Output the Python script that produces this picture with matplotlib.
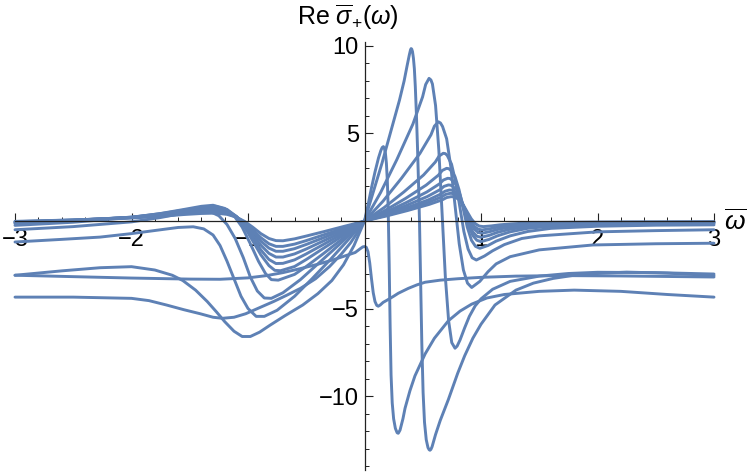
import matplotlib
matplotlib.use("Agg")
import matplotlib.pyplot as plt

# ---------------- data ----------------
c1_x = [-3, -2.5, -2, -1.75, -1.55, -1.4, -1.28, -1.18, -1.1, -1.03, -0.96, -0.89, -0.82, -0.76, -0.7, -0.6, -0.5, -0.35, -0.2, -0.1, 0,
        0.185, 0.371, 0.556, 0.668, 0.705, 0.742, 0.76, 0.777, 0.812, 0.846, 0.881, 0.916, 0.95, 0.985, 1.02, 1.09, 1.16, 1.25, 1.4, 1.6, 2, 2.5, 3]
c1_y = [-0.02, 0.06, 0.17, 0.27, 0.37, 0.43, 0.45, 0.38, 0.22, -0.02, -0.35, -0.72, -1.0, -1.12, -1.13, -1.02, -0.86, -0.61, -0.35, -0.18, 0,
        0.28, 0.6, 0.95, 1.21, 1.34, 1.39, 1.385, 1.36, 1.22, 0.94, 0.53, 0.13, -0.15, -0.29, -0.32, -0.28, -0.22, -0.17, -0.11, -0.08, -0.06, -0.05, -0.04]

c2_x = [-3, -2.5, -2, -1.75, -1.55, -1.4, -1.28, -1.18, -1.1, -1.03, -0.96, -0.89, -0.82, -0.76, -0.7, -0.6, -0.5, -0.35, -0.2, -0.1, 0,
        0.1835, 0.367, 0.55, 0.66, 0.697, 0.734, 0.752, 0.77, 0.803, 0.838, 0.872, 0.906, 0.941, 0.976, 1.01, 1.08, 1.15, 1.25, 1.4, 1.6, 2, 2.5, 3]
c2_y = [-0.04, 0.06, 0.19, 0.3, 0.42, 0.5, 0.52, 0.43, 0.22, -0.08, -0.5, -0.95, -1.3, -1.45, -1.45, -1.32, -1.12, -0.79, -0.46, -0.23, 0,
        0.32, 0.68, 1.07, 1.37, 1.52, 1.58, 1.575, 1.54, 1.37, 1.03, 0.53, 0.04, -0.3, -0.47, -0.51, -0.44, -0.34, -0.25, -0.17, -0.12, -0.08, -0.07, -0.06]

c3_x = [-3, -2.5, -2, -1.75, -1.55, -1.4, -1.28, -1.18, -1.1, -1.03, -0.96, -0.89, -0.82, -0.76, -0.7, -0.6, -0.5, -0.35, -0.2, -0.1, 0,
        0.182, 0.364, 0.546, 0.655, 0.691, 0.728, 0.746, 0.763, 0.798, 0.834, 0.87, 0.905, 0.94, 0.975, 1.01, 1.08, 1.15, 1.25, 1.4, 1.6, 2, 2.5, 3]
c3_y = [-0.06, 0.05, 0.2, 0.33, 0.47, 0.57, 0.6, 0.49, 0.24, -0.13, -0.63, -1.15, -1.55, -1.73, -1.73, -1.58, -1.34, -0.95, -0.55, -0.28, 0,
        0.35, 0.76, 1.2, 1.54, 1.7, 1.77, 1.765, 1.72, 1.52, 1.11, 0.53, -0.05, -0.45, -0.65, -0.7, -0.6, -0.47, -0.35, -0.24, -0.16, -0.11, -0.09, -0.08]

c4_x = [-3, -2.5, -2, -1.75, -1.55, -1.4, -1.28, -1.18, -1.1, -1.03, -0.96, -0.89, -0.82, -0.76, -0.7, -0.6, -0.5, -0.35, -0.2, -0.1, 0,
        0.18, 0.36, 0.54, 0.648, 0.683, 0.72, 0.738, 0.755, 0.79, 0.825, 0.86, 0.895, 0.93, 0.965, 1.0, 1.07, 1.14, 1.25, 1.4, 1.6, 2, 2.5, 3]
c4_y = [-0.08, 0.04, 0.21, 0.36, 0.52, 0.64, 0.68, 0.55, 0.25, -0.18, -0.78, -1.38, -1.85, -2.06, -2.06, -1.88, -1.6, -1.13, -0.66, -0.33, 0,
        0.41, 0.89, 1.4, 1.79, 1.98, 2.06, 2.05, 1.99, 1.77, 1.27, 0.57, -0.14, -0.63, -0.87, -0.93, -0.82, -0.65, -0.47, -0.32, -0.22, -0.15, -0.12, -0.1]

c5_x = [-3, -2.5, -2, -1.75, -1.55, -1.4, -1.28, -1.18, -1.1, -1.03, -0.96, -0.89, -0.82, -0.76, -0.7, -0.6, -0.5, -0.35, -0.2, -0.1, 0,
        0.1785, 0.357, 0.5355, 0.643, 0.677, 0.714, 0.732, 0.75, 0.786, 0.821, 0.857, 0.893, 0.929, 0.964, 1.0, 1.07, 1.14, 1.25, 1.4, 1.6, 2, 2.5, 3]
c5_y = [-0.11, 0.03, 0.22, 0.39, 0.57, 0.71, 0.76, 0.61, 0.26, -0.25, -0.95, -1.65, -2.2, -2.43, -2.42, -2.22, -1.88, -1.33, -0.77, -0.39, 0,
        0.49, 1.05, 1.66, 2.12, 2.34, 2.44, 2.43, 2.35, 2.08, 1.48, 0.63, -0.22, -0.82, -1.1, -1.18, -1.05, -0.85, -0.62, -0.42, -0.3, -0.2, -0.16, -0.14]

c6_x = [-3, -2.5, -2, -1.75, -1.55, -1.4, -1.28, -1.18, -1.1, -1.03, -0.96, -0.89, -0.82, -0.77, -0.72, -0.6, -0.5, -0.35, -0.2, -0.1, 0,
        0.176, 0.3525, 0.529, 0.6345, 0.668, 0.705, 0.723, 0.74, 0.776, 0.811, 0.847, 0.882, 0.918, 0.953, 0.99, 1.06, 1.13, 1.25, 1.4, 1.6, 2, 2.5, 3]
c6_y = [-0.15, 0.0, 0.22, 0.42, 0.62, 0.78, 0.84, 0.66, 0.26, -0.33, -1.13, -1.93, -2.55, -2.82, -2.84, -2.6, -2.2, -1.55, -0.9, -0.45, 0,
        0.6, 1.29, 2.05, 2.62, 2.89, 3.01, 2.99, 2.9, 2.55, 1.8, 0.72, -0.35, -1.1, -1.45, -1.56, -1.4, -1.15, -0.85, -0.6, -0.42, -0.3, -0.24, -0.22]

c7_x = [-3, -2.5, -2, -1.75, -1.55, -1.4, -1.3, -1.2, -1.12, -1.05, -0.98, -0.91, -0.85, -0.8, -0.74, -0.6, -0.5, -0.35, -0.2, -0.1, 0,
        0.169, 0.338, 0.507, 0.608, 0.64, 0.676, 0.694, 0.71, 0.747, 0.782, 0.818, 0.853, 0.889, 0.924, 0.96, 1.03, 1.1, 1.2, 1.35, 1.5, 2.0, 2.5, 3]
c7_y = [-0.25, -0.07, 0.2, 0.43, 0.66, 0.84, 0.9, 0.72, 0.3, -0.35, -1.3, -2.3, -3.0, -3.35, -3.38, -3.05, -2.6, -1.85, -1.07, -0.54, 0,
        0.77, 1.66, 2.63, 3.37, 3.71, 3.87, 3.85, 3.75, 3.25, 2.25, 0.82, -0.6, -1.6, -2.1, -2.23, -2.0, -1.7, -1.35, -1.0, -0.85, -0.62, -0.55, -0.5]

c8_x = [-3, -2.5, -2, -1.75, -1.55, -1.42, -1.33, -1.25, -1.18, -1.11, -1.04, -0.98, -0.92, -0.86, -0.8, -0.7, -0.55, -0.4, -0.25, -0.12, 0,
        0.1585, 0.317, 0.4755, 0.571, 0.6, 0.634, 0.652, 0.67, 0.705, 0.741, 0.777, 0.813, 0.849, 0.884, 0.92, 0.99, 1.06, 1.13, 1.25, 1.5, 1.96, 2.5, 3]
c8_y = [-0.5, -0.32, -0.05, 0.2, 0.45, 0.58, 0.55, 0.3, -0.2, -1.0, -2.1, -3.2, -4.0, -4.4, -4.42, -4.1, -3.35, -2.45, -1.55, -0.75, 0,
        1.13, 2.44, 3.86, 4.93, 5.42, 5.67, 5.6, 5.4, 4.7, 3.1, 0.9, -1.3, -2.8, -3.55, -3.8, -3.45, -2.9, -2.45, -2.04, -1.65, -1.37, -1.3, -1.27]

c9_x = [-3, -2.6, -2.27, -2, -1.75, -1.6, -1.47, -1.38, -1.3, -1.24, -1.18, -1.12, -1.06, -1.0, -0.93, -0.86, -0.75, -0.6, -0.45, -0.3, -0.15, 0,
        0.1385, 0.277, 0.4155, 0.4985, 0.525, 0.554, 0.57, 0.583, 0.61, 0.638, 0.666, 0.694, 0.722, 0.749, 0.777, 0.795, 0.82, 0.86, 0.9, 0.95,
        1.0, 1.1, 1.25, 1.5, 1.75, 2.0, 2.5, 3.0]
c9_y = [-1.2, -1.05, -0.92, -0.72, -0.5, -0.37, -0.33, -0.45, -0.8, -1.4, -2.3, -3.3, -4.3, -5.0, -5.45, -5.45, -5.1, -4.3, -3.3, -2.25, -1.15, 0,
        1.63, 3.5, 5.54, 7.09, 7.8, 8.15, 8.06, 7.83, 6.6, 4.06, 0.44, -3.2, -5.7, -6.95, -7.27, -7.15, -6.8, -6.1, -5.45, -4.85,
        -4.45, -3.9, -3.45, -3.15, -3.0, -2.93, -2.95, -3.03]

c10_x = [-3, -2.6, -2.27, -2.0, -1.8, -1.65, -1.56, -1.45, -1.35, -1.27, -1.2, -1.12, -1.05, -0.98, -0.9, -0.81, -0.68, -0.53, -0.4, -0.28, -0.18, -0.09, 0,
         0.05, 0.1, 0.15, 0.2, 0.25, 0.3, 0.34, 0.365, 0.385, 0.395, 0.4, 0.405, 0.412, 0.42, 0.428, 0.436, 0.445, 0.455, 0.464, 0.472, 0.482,
         0.492, 0.503, 0.515, 0.53, 0.545, 0.555, 0.562, 0.57, 0.58, 0.61, 0.65, 0.72, 0.8, 0.86, 0.93, 1.0, 1.12, 1.3, 1.45, 1.62, 1.8, 2.0,
         2.25, 2.6, 3.0]
c10_y = [-3.1, -2.85, -2.67, -2.61, -2.8, -3.1, -3.4, -3.95, -4.6, -5.2, -5.75, -6.3, -6.6, -6.6, -6.35, -5.95, -5.4, -4.8, -4.15, -3.4, -2.5, -1.4, 0,
         1.1, 2.2, 3.3, 4.5, 5.7, 6.9, 8.0, 8.85, 9.5, 9.78, 9.85, 9.83, 9.68, 9.3, 8.7, 7.7, 6.2, 4.2, 2.1, 0.0, -3.5,
         -7.0, -9.8, -11.5, -12.5, -12.95, -13.07, -13.1, -13.05, -12.9, -12.2, -11.4, -10.2, -8.7, -7.7, -6.7, -5.9, -4.8, -3.95, -3.55, -3.28, -3.1, -3.0,
         -2.92, -2.98, -3.12]

c11_x = [-3, -2.5, -2.0, -1.85, -1.7, -1.55, -1.41, -1.3, -1.22, -1.12, -1.02, -0.9, -0.78, -0.67, -0.55, -0.42, -0.3, -0.2, -0.12, -0.06, 0,
         0.03, 0.06, 0.09, 0.12, 0.14, 0.152, 0.162, 0.171, 0.18, 0.188, 0.196, 0.203, 0.212, 0.22, 0.228, 0.238, 0.25, 0.265, 0.28, 0.29, 0.305,
         0.33, 0.348, 0.39, 0.433, 0.52, 0.6, 0.72, 0.82, 0.92, 1.05, 1.2, 1.5, 1.8, 2.2, 2.6, 3.0]
c11_y = [-4.35, -4.35, -4.42, -4.55, -4.8, -5.07, -5.3, -5.5, -5.56, -5.5, -5.3, -4.95, -4.6, -4.25, -3.85, -3.3, -2.6, -1.9, -1.25, -0.65, 0,
         0.9, 1.9, 2.8, 3.6, 4.02, 4.2, 4.25, 4.15, 3.85, 3.3, 2.3, 0.8, -2.5, -6.0, -8.8, -10.4, -11.3, -11.85, -12.1, -12.13, -11.95,
         -11.3, -10.7, -9.7, -8.85, -7.6, -6.7, -5.7, -5.15, -4.75, -4.4, -4.2, -4.02, -3.95, -4.02, -4.2, -4.35]

n1_x = [-3, -2.5, -2.0, -1.5, -1.24, -1.0, -0.84, -0.7, -0.55, -0.4, -0.27, -0.17, -0.08, -0.04, -0.015, 0,
        0.015, 0.03, 0.045, 0.06, 0.075, 0.09, 0.105, 0.118, 0.135, 0.16, 0.2, 0.25, 0.29, 0.376, 0.45, 0.52, 0.65, 0.8, 1.0,
        1.3, 1.7, 2.2, 2.6, 3.0]
n1_y = [-3.1, -3.18, -3.26, -3.32, -3.33, -3.25, -3.12, -2.95, -2.72, -2.47, -2.22, -2.0, -1.8, -1.6, -1.48, -1.46,
        -1.5, -1.75, -2.4, -3.3, -4.1, -4.6, -4.82, -4.87, -4.8, -4.65, -4.5, -4.3, -4.13, -3.85, -3.65, -3.5, -3.38, -3.3, -3.22,
        -3.15, -3.12, -3.14, -3.17, -3.2]

curves = [(c1_x, c1_y), (c2_x, c2_y), (c3_x, c3_y), (c4_x, c4_y), (c5_x, c5_y), (c6_x, c6_y),
          (c7_x, c7_y), (c8_x, c8_y), (c9_x, c9_y), (c10_x, c10_y), (c11_x, c11_y), (n1_x, n1_y)]

x_major = [-3, -2, -1, 1, 2, 3]
y_major = [-10, -5, 5, 10]
x_labels = ["\u22123", "\u22122", "\u22121", "1", "2", "3"]
y_labels = ["\u221210", "\u22125", "5", "10"]

# ---------------- plot ----------------
plt.rcParams['font.family'] = ['Liberation Sans', 'DejaVu Sans']
plt.rcParams['mathtext.fontset'] = 'custom'
plt.rcParams['mathtext.rm'] = 'Liberation Sans'
plt.rcParams['mathtext.it'] = 'Liberation Sans:italic'

W, H = 750, 473
fig = plt.figure(figsize=(7.5, 4.73), dpi=100)
xpx0, xpx1 = 15, 714
ymin, ymax = -14.2, 10.25
ypx_zero, yscale = 221, 17.5
top_px = ypx_zero - ymax * yscale
bot_px = ypx_zero - ymin * yscale
ax = fig.add_axes([xpx0 / W, (H - bot_px) / H, (xpx1 - xpx0) / W, (bot_px - top_px) / H])
ax.set_xlim(-3, 3)
ax.set_ylim(ymin, ymax)

color = '#5E81B5'
for xs, ys in curves:
    ax.plot(xs, ys, color=color, lw=2.1, solid_capstyle='round', solid_joinstyle='round', clip_on=False)

for s in ['top', 'right']:
    ax.spines[s].set_visible(False)
ax.spines['left'].set_position(('data', 0))
ax.spines['bottom'].set_position(('data', 0))
for s in ['left', 'bottom']:
    ax.spines[s].set_color('#222222')
    ax.spines[s].set_linewidth(0.9)
ax.set_facecolor('none')

ax.set_xticks(x_major)
ax.set_xticklabels(x_labels)
ax.set_yticks(y_major)
ax.set_yticklabels(y_labels)
ax.set_xticks([v / 5 for v in range(-15, 16) if v % 5 != 0], minor=True)
ax.set_yticks([v for v in range(-14, 11) if v % 5 != 0], minor=True)
ax.tick_params(axis='both', which='major', direction='in', length=5.5, width=0.8, color='#222222',
               labelsize=17, labelcolor='black')
ax.tick_params(axis='both', which='minor', direction='in', length=3.0, width=0.7, color='#222222')
ax.tick_params(axis='x', which='major', pad=6)
ax.tick_params(axis='y', which='major', pad=4)

fig.text(348 / W, 1 - 17 / H, r'Re $\overline{\sigma}_{+}(\omega)$', ha='center', va='center', fontsize=18)
fig.text(735 / W, 1 - 222 / H, r'$\overline{\omega}$', ha='center', va='center', fontsize=19)

fig.savefig('out.png', dpi=100)
